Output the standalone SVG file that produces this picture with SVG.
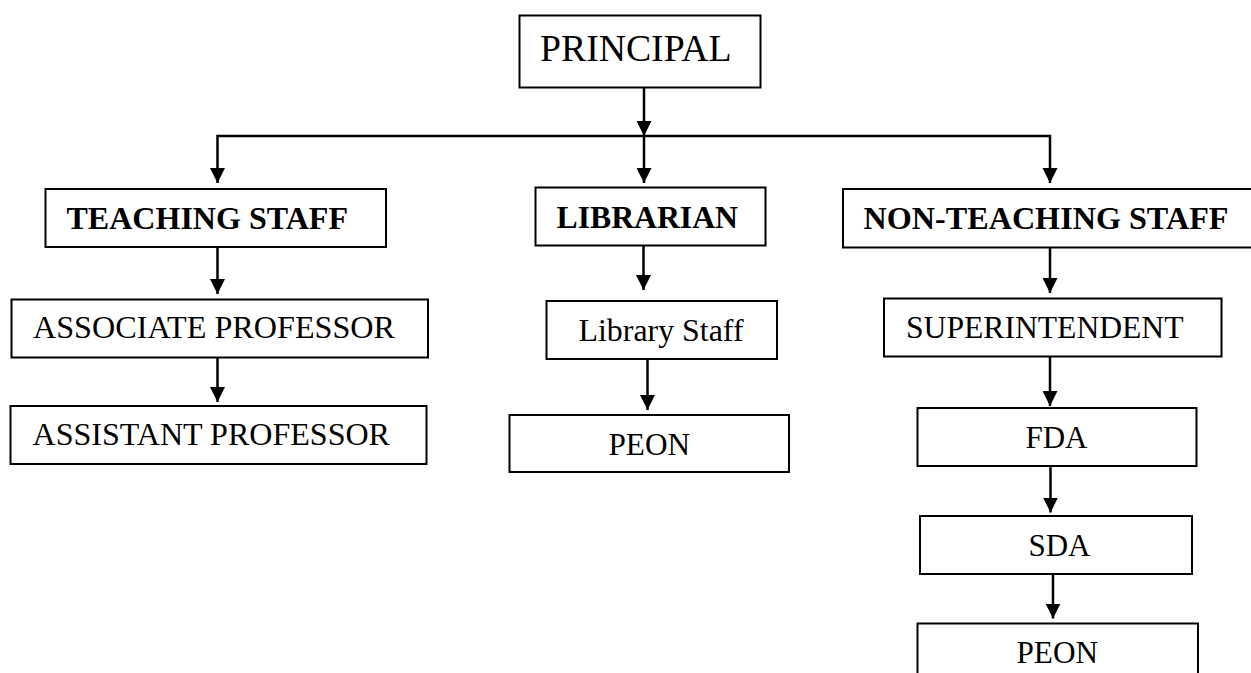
<svg xmlns="http://www.w3.org/2000/svg" width="1251" height="673" viewBox="0 0 1251 673">
<defs>
<style>
.box{fill:#fff;stroke:#000;stroke-width:2}
.t{font-family:"Liberation Serif","Times New Roman",serif;font-size:32px;fill:#000}
.b{font-weight:bold;font-size:31px}
.c{fill:none;stroke:#000;stroke-width:2.5}
</style>
<marker id="ah" viewBox="0 0 15 15" refX="15" refY="7.5" markerWidth="15" markerHeight="15" markerUnits="userSpaceOnUse" orient="auto">
<path d="M0,0 L15,7.5 L0,15 Z" fill="#000"/>
</marker>
</defs>
<rect width="1251" height="673" fill="#fff"/>
<g id="connectors">
<line class="c" x1="644" y1="88" x2="644" y2="136" marker-end="url(#ah)"/>
<polyline class="c" points="217.5,183 217.5,136 1050,136 1050,183" fill="none"/>
<path d="M210,168 L225,168 L217.5,183 Z"/>
<path d="M1042.5,168 L1057.5,168 L1050,183 Z"/>
<line class="c" x1="644" y1="136" x2="644" y2="183" marker-end="url(#ah)"/>
<line class="c" x1="217.5" y1="247" x2="217.5" y2="294" marker-end="url(#ah)"/>
<line class="c" x1="217.5" y1="354" x2="217.5" y2="402" marker-end="url(#ah)"/>
<line class="c" x1="643.5" y1="246" x2="643.5" y2="290" marker-end="url(#ah)"/>
<line class="c" x1="647.5" y1="360" x2="647.5" y2="410" marker-end="url(#ah)"/>
<line class="c" x1="1050" y1="248" x2="1050" y2="293" marker-end="url(#ah)"/>
<line class="c" x1="1050" y1="357" x2="1050" y2="406" marker-end="url(#ah)"/>
<line class="c" x1="1050.5" y1="466" x2="1050.5" y2="512.5" marker-end="url(#ah)"/>
<line class="c" x1="1053" y1="574" x2="1053" y2="618.5" marker-end="url(#ah)"/>
</g>
<g id="principal">
<rect class="box" x="519.5" y="15.5" width="241" height="72"/>
<text class="t" x="540" y="61" font-size="37" style="font-size:37px" textLength="191.5" lengthAdjust="spacingAndGlyphs">PRINCIPAL</text>
</g>
<g id="teaching-staff">
<rect class="box" x="45.5" y="189" width="340.5" height="58"/>
<text class="t b" x="66.5" y="229" textLength="281.5" lengthAdjust="spacingAndGlyphs">TEACHING STAFF</text>
</g>
<g id="associate-professor">
<rect class="box" x="11.5" y="299.5" width="416.5" height="58"/>
<text class="t" x="33" y="338" textLength="362" lengthAdjust="spacingAndGlyphs">ASSOCIATE PROFESSOR</text>
</g>
<g id="assistant-professor">
<rect class="box" x="10.5" y="406" width="416" height="58"/>
<text class="t" x="32.5" y="445" textLength="357.5" lengthAdjust="spacingAndGlyphs">ASSISTANT PROFESSOR</text>
</g>
<g id="librarian">
<rect class="box" x="535.5" y="187.5" width="230" height="58"/>
<text class="t b" x="556.5" y="228" textLength="181.5" lengthAdjust="spacingAndGlyphs">LIBRARIAN</text>
</g>
<g id="library-staff">
<rect class="box" x="546.5" y="301" width="230.5" height="58"/>
<text class="t" x="578.5" y="340.5" textLength="165" lengthAdjust="spacingAndGlyphs">Library Staff</text>
</g>
<g id="library-peon">
<rect class="box" x="509.5" y="415" width="279.5" height="57"/>
<text class="t" x="608.5" y="455" textLength="81.5" lengthAdjust="spacingAndGlyphs">PEON</text>
</g>
<g id="non-teaching-staff">
<rect class="box" x="843" y="189" width="420" height="58.5"/>
<text class="t b" x="863.5" y="228.5" textLength="365" lengthAdjust="spacingAndGlyphs">NON-TEACHING STAFF</text>
</g>
<g id="superintendent">
<rect class="box" x="884" y="298.5" width="337.5" height="58"/>
<text class="t" x="906" y="337.5" textLength="277.5" lengthAdjust="spacingAndGlyphs">SUPERINTENDENT</text>
</g>
<g id="fda">
<rect class="box" x="917.5" y="408" width="279" height="58"/>
<text class="t" x="1025.5" y="448" textLength="62" lengthAdjust="spacingAndGlyphs">FDA</text>
</g>
<g id="sda">
<rect class="box" x="920" y="516" width="272" height="58"/>
<text class="t" x="1028.5" y="556" textLength="62" lengthAdjust="spacingAndGlyphs">SDA</text>
</g>
<g id="nt-peon">
<rect class="box" x="917.5" y="623.5" width="280.5" height="70"/>
<text class="t" x="1016.5" y="662.5" textLength="81.5" lengthAdjust="spacingAndGlyphs">PEON</text>
</g>
</svg>
